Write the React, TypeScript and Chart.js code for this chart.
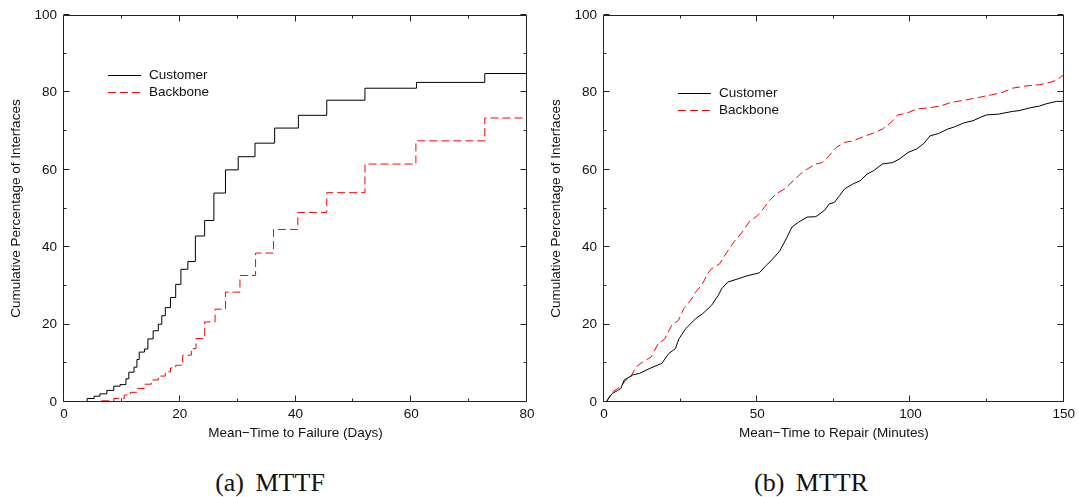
import React, { useEffect, useRef } from "react";
import { Chart, registerables } from "chart.js";
Chart.register(...registerables);

// ---- MTTF (days) : step CDFs ----
const mttfCustomer: [number, number][] = [
  [3.8, 0], [4.0, 0.9], [5.2, 1.5], [6.2, 2.1], [7.4, 3.0], [8.6, 4.1], [9.7, 4.5], [10.7, 6.0],
  [11.2, 7.7], [12.1, 9.0], [12.6, 11.0], [13.0, 12.9], [13.9, 13.7], [14.5, 16.3], [15.4, 18.4],
  [16.3, 20.1], [16.9, 22.3], [17.5, 24.4], [18.4, 27.0], [19.3, 30.4], [20.2, 34.3], [21.4, 36.3],
  [22.7, 42.9], [24.3, 46.9], [25.9, 54.0], [27.9, 60.0], [30.1, 63.4], [33.0, 66.9], [36.4, 70.8],
  [40.5, 74.1], [45.4, 78.0], [52.0, 81.1], [60.9, 82.6], [72.7, 84.9], [80, 84.9],
];
const mttfBackbone: [number, number][] = [
  [2.5, 0], [6.0, 0.3], [8.6, 0.9], [10.4, 1.8], [11.5, 2.5], [12.7, 3.5], [13.9, 4.6], [15.1, 5.7],
  [16.3, 6.7], [17.5, 7.8], [18.4, 8.8], [19.3, 9.5], [20.5, 12.1], [22.0, 13.8], [22.8, 16.4],
  [24.3, 20.7], [26.1, 24.0], [27.9, 28.4], [30.4, 32.7], [33.1, 38.5], [36.2, 44.6], [40.4, 49.0],
  [45.4, 54.1], [52.0, 61.5], [60.8, 67.5], [72.7, 73.4], [80, 73.4],
];

// ---- MTTR (minutes) ----
const mttrCustomer: [number, number][] = [
  [0.8, 0], [1.5, 1.0], [2.7, 2.2], [4.5, 3.0], [5.5, 3.5], [6.6, 5.7], [9.4, 7.0], [11.6, 7.4],
  [15.0, 8.7], [18.9, 10.0], [21.1, 12.5], [23.3, 13.8], [24.5, 16.4], [26.7, 19.0], [30.0, 21.6],
  [32.3, 22.9], [35.1, 25.0], [37.3, 27.6], [38.4, 29.3], [40.4, 31.0], [44.0, 31.9], [46.2, 32.5],
  [50.7, 33.4], [52.9, 35.3], [55.1, 37.0], [57.3, 39.0], [59.6, 42.4], [61.3, 45.2], [63.5, 46.5],
  [66.3, 47.8], [69.1, 47.9], [71.9, 49.5], [73.5, 51.2], [75.2, 51.6], [76.9, 53.4], [78.5, 55.1],
  [81.3, 56.4], [83.6, 57.2], [85.8, 58.9], [88.0, 59.8], [90.8, 61.5], [94.2, 61.9], [96.4, 62.8],
  [99.2, 64.5], [102.0, 65.4], [104.2, 66.7], [106.4, 68.8], [109.2, 69.4], [112.0, 70.5],
  [114.3, 71.1], [117.6, 72.2], [120.4, 72.7], [122.6, 73.5], [124.8, 74.2], [128.7, 74.4],
  [133.2, 75.1], [135.4, 75.3], [138.8, 76.0], [142.1, 76.5], [144.4, 77.1], [147.7, 77.7], [150, 77.7],
];
const mttrBackbone: [number, number][] = [
  [0.8, 0], [2.7, 2.6], [5.5, 4.0], [7.1, 5.7], [8.7, 6.4], [10.3, 9.0], [12.6, 10.3], [15.4, 11.6],
  [17.6, 15.0], [19.8, 16.3], [22.1, 19.8], [24.3, 21.1], [26.0, 24.1], [28.2, 26.2], [29.9, 28.4],
  [32.1, 30.5], [33.8, 33.1], [35.0, 34.4], [37.7, 35.7], [40.0, 38.6], [42.5, 41.5], [45.1, 43.9],
  [47.3, 46.5], [50.1, 48.2], [52.3, 50.3], [54.0, 52.1], [56.2, 53.8], [59.0, 55.1], [61.8, 57.2],
  [64.0, 58.9], [66.3, 60.2], [69.1, 61.5], [71.3, 61.9], [73.5, 63.7], [75.8, 65.8], [78.5, 67.1],
  [81.3, 67.5], [84.7, 68.6], [87.5, 69.4], [90.8, 70.5], [93.6, 72.2], [95.8, 74.2], [98.6, 74.6],
  [102.0, 75.7], [106.4, 76.1], [109.8, 76.5], [113.1, 77.4], [117.6, 78.0], [122.1, 78.7],
  [126.5, 79.4], [129.9, 80.0], [133.2, 81.1], [137.7, 81.7], [142.1, 82.0], [145.5, 82.6],
  [147.7, 83.2], [149.4, 84.3], [150, 84.3],
];

const seriesLabels = ["Customer", "Backbone"];
const yTitle = "Cumulative Percentage of Interfaces";
const mttfXTitle = "Mean\u2212Time to Failure (Days)";
const mttrXTitle = "Mean\u2212Time to Repair (Minutes)";
const mttfXTicks = { max: 80, step: 20 };
const mttrXTicks = { max: 150, step: 50 };
const yTicks = { max: 100, step: 20 };

const FONT = "'Liberation Sans', Arial, Helvetica, sans-serif";
const TEXT = "#111";

const framePlugin = {
  id: "frame",
  afterDraw(chart: any) {
    const { ctx, chartArea: a, scales } = chart;
    const L = Math.round(a.left) - 0.5;
    const R = Math.round(a.right) - 0.5;
    const T = Math.round(a.top) + 0.5;
    const B = Math.round(a.bottom) - 0.5;
    ctx.save();
    ctx.strokeStyle = "#222";
    ctx.lineWidth = 1;
    ctx.beginPath();
    ctx.rect(L, T, R - L, B - T);
    ctx.stroke();
    const major = 6, minor = 3;
    const drawTicks = (scale: any, horiz: boolean) => {
      const vals: number[] = scale.ticks.map((t: any) => t.value);
      const step = vals.length > 1 ? vals[1] - vals[0] : 0;
      const all: [number, number][] = [];
      vals.forEach((v: number, i: number) => {
        all.push([v, major]);
        if (i < vals.length - 1) all.push([v + step / 2, minor]);
      });
      ctx.beginPath();
      all.forEach(([v, len]) => {
        const p = Math.round(scale.getPixelForValue(v)) - 0.5;
        if (horiz) {
          ctx.moveTo(p, B); ctx.lineTo(p, B - len);
          ctx.moveTo(p, T); ctx.lineTo(p, T + len);
        } else {
          ctx.moveTo(L, p); ctx.lineTo(L + len, p);
          ctx.moveTo(R, p); ctx.lineTo(R - len, p);
        }
      });
      ctx.stroke();
    };
    drawTicks(scales.x, true);
    drawTicks(scales.y, false);
    ctx.restore();
  },
};

const legendPlugin = {
  id: "boxLegend",
  afterDraw(chart: any, _args: any, opts: any) {
    const { ctx } = chart;
    ctx.save();
    chart.data.datasets.forEach((ds: any, i: number) => {
      const y = opts.ys[i];
      ctx.strokeStyle = ds.borderColor;
      ctx.lineWidth = 1;
      ctx.setLineDash(ds.borderDash || []);
      ctx.beginPath();
      ctx.moveTo(opts.x0, y + 0.5);
      ctx.lineTo(opts.x1, y + 0.5);
      ctx.stroke();
      ctx.setLineDash([]);
      ctx.fillStyle = TEXT;
      ctx.font = `13.5px ${FONT}`;
      ctx.textBaseline = "middle";
      ctx.textAlign = "left";
      ctx.fillText(ds.label, opts.tx, y);
    });
    ctx.restore();
  },
};

function makeChart(
  canvas: HTMLCanvasElement,
  cust: [number, number][],
  back: [number, number][],
  stepped: boolean,
  xt: { max: number; step: number },
  xTitle: string,
  rightPad: number,
  legend: { x0: number; x1: number; tx: number; ys: number[] }
) {
  return new Chart(canvas, {
    type: "line",
    data: {
      datasets: [
        {
          label: seriesLabels[0],
          data: cust.map(([x, y]) => ({ x, y })),
          borderColor: "#000",
          borderWidth: 1,
          pointRadius: 0,
          stepped: stepped ? "before" : false,
          tension: 0,
          fill: false,
        },
        {
          label: seriesLabels[1],
          data: back.map(([x, y]) => ({ x, y })),
          borderColor: "#ff0000",
          borderWidth: 1,
          borderDash: [8, 4],
          pointRadius: 0,
          stepped: stepped ? "before" : false,
          tension: 0,
          fill: false,
        },
      ],
    },
    options: {
      animation: false,
      responsive: false,
      maintainAspectRatio: false,
      events: [],
      layout: { padding: { left: 0, right: rightPad, top: 14, bottom: 0 } },
      plugins: {
        legend: { display: false },
        tooltip: { enabled: false },
        boxLegend: legend,
      } as any,
      scales: {
        x: {
          type: "linear",
          min: 0,
          max: xt.max,
          ticks: { stepSize: xt.step, color: TEXT, font: { family: FONT, size: 13.5 }, padding: 4, maxRotation: 0 },
          grid: { display: false, drawTicks: false },
          border: { display: false },
          title: { display: true, text: xTitle, color: TEXT, font: { family: FONT, size: 13.5 }, padding: { top: 0, bottom: 9 } },
          afterFit: (s: any) => { s.height = 48; },
        },
        y: {
          type: "linear",
          min: 0,
          max: yTicks.max,
          ticks: { stepSize: yTicks.step, color: TEXT, font: { family: FONT, size: 13.5 }, padding: 7 },
          grid: { display: false, drawTicks: false },
          border: { display: false },
          title: { display: true, text: yTitle, color: TEXT, font: { family: FONT, size: 13.5 }, padding: { top: 8, bottom: 0 } },
          afterFit: (s: any) => { s.width = 64; },
        },
      },
    } as any,
    plugins: [framePlugin, legendPlugin],
  });
}

export default function App() {
  const leftRef = useRef<HTMLCanvasElement>(null);
  const rightRef = useRef<HTMLCanvasElement>(null);
  useEffect(() => {
    const c1 = makeChart(leftRef.current!, mttfCustomer, mttfBackbone, true, mttfXTicks, mttfXTitle, 13,
      { x0: 108, x1: 141, tx: 149, ys: [75, 92] });
    const c2 = makeChart(rightRef.current!, mttrCustomer, mttrBackbone, false, mttrXTicks, mttrXTitle, 12,
      { x0: 138, x1: 171, tx: 179, ys: [93, 110] });
    return () => { c1.destroy(); c2.destroy(); };
  }, []);
  const cap: React.CSSProperties = {
    position: "absolute", top: 470, width: 540, textAlign: "center",
    fontFamily: "'Liberation Serif', 'Times New Roman', serif", fontSize: 26, lineHeight: "26px",
    color: "#111", wordSpacing: 5, whiteSpace: "pre",
  };
  return (
    <div style={{ position: "absolute", left: 0, top: 0, width: 1079, height: 497, overflow: "hidden", background: "#fff" }}>
      <canvas ref={leftRef} width={540} height={450} style={{ position: "absolute", left: 0, top: 0, width: 540, height: 450 }} />
      <canvas ref={rightRef} width={539} height={450} style={{ position: "absolute", left: 540, top: 0, width: 539, height: 450 }} />
      <div style={{ ...cap, left: 0 }}>(a) MTTF</div>
      <div style={{ ...cap, left: 541 }}>(b) MTTR</div>
    </div>
  );
}
